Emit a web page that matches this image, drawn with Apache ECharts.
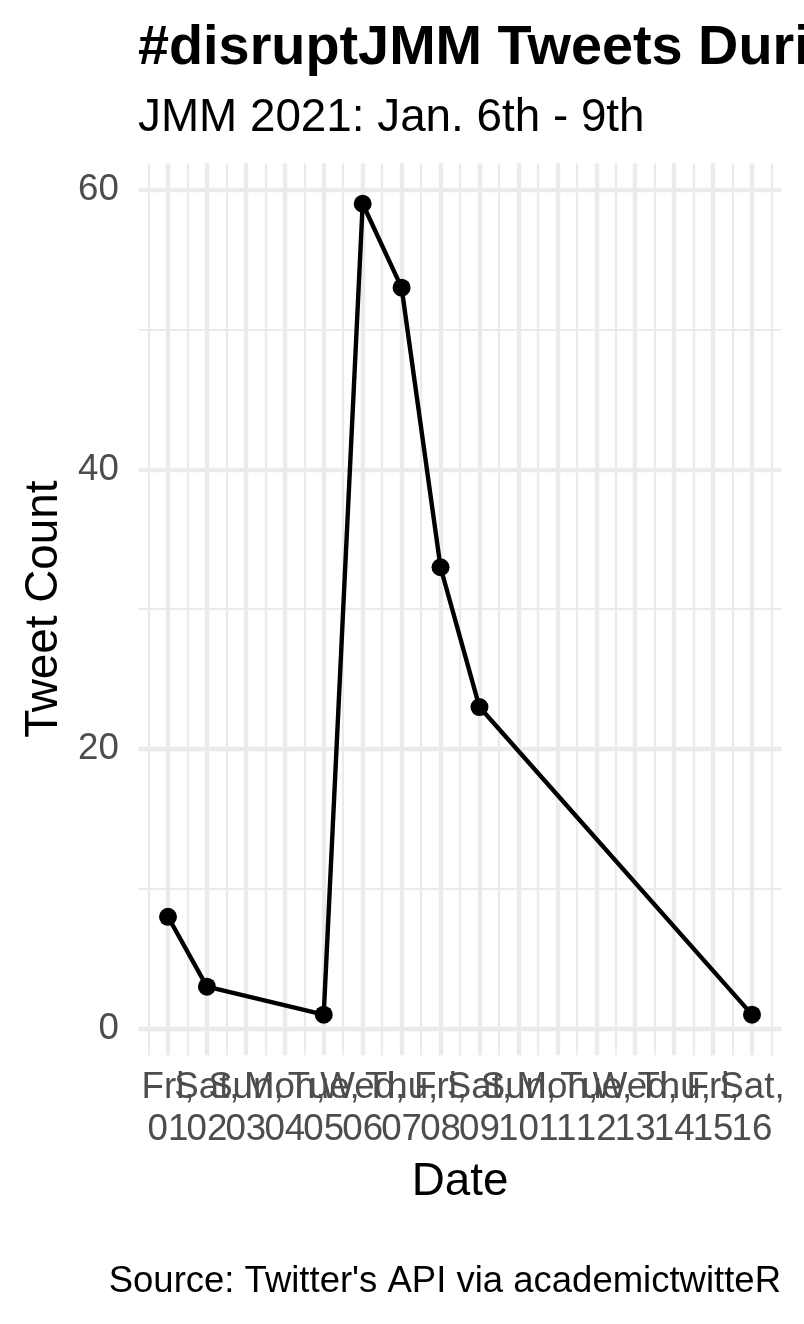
<!DOCTYPE html>
<html><head><meta charset="utf-8">
<script src="https://cdn.jsdelivr.net/npm/echarts@6/dist/echarts.min.js"></script>
<style>html,body{margin:0;padding:0;background:#fff}#c{width:804px;height:1324px}</style>
</head><body><div id="c"></div>
<script>
// ---- data ----
const days = [1, 2, 5, 6, 7, 8, 9, 16];           // day of January 2021
const tweetCounts = [8, 3, 1, 59, 53, 33, 23, 1];
const xTickDays = [1, 2, 3, 4, 5, 6, 7, 8, 9, 10, 11, 12, 13, 14, 15, 16];
const xTickLabels = ['Fri,\n01', 'Sat,\n02', 'Sun,\n03', 'Mon,\n04', 'Tue,\n05', 'Wed,\n06', 'Thu,\n07', 'Fri,\n08',
                     'Sat,\n09', 'Sun,\n10', 'Mon,\n11', 'Tue,\n12', 'Wed,\n13', 'Thu,\n14', 'Fri,\n15', 'Sat,\n16'];
const xMinorDays = [0.5, 1.5, 2.5, 3.5, 4.5, 5.5, 6.5, 7.5, 8.5, 9.5, 10.5, 11.5, 12.5, 13.5, 14.5, 15.5, 16.5];
const yTicks = [0, 20, 40, 60];
const yMinorTicks = [10, 30, 50];
const titleText = '#disruptJMM Tweets During';
const subtitleText = 'JMM 2021: Jan. 6th - 9th';
const captionText = "Source: Twitter's API via academictwitteR";

// ---- chart ----
const FONT = '"Liberation Sans", Arial, Helvetica, sans-serif';
const X_MIN = 0.25, X_MAX = 16.75, Y_MIN = -1.9, Y_MAX = 61.9;
// labels are split over two coincident axes so that ECharts never drops overlapping neighbours
const oddDays = xTickDays.filter(d => d % 2 === 1);
const evenDays = xTickDays.filter(d => d % 2 === 0);
const dayLabel = v => xTickLabels[xTickDays.indexOf(Math.round(v))];
const labelStyle = {
  showMinLabel: true, showMaxLabel: true, hideOverlap: false, formatter: dayLabel,
  fontFamily: FONT, fontSize: 36.7, color: '#4D4D4D', lineHeight: 42, margin: 12, align: 'center'
};
const chart = echarts.init(document.getElementById('c'), null, {renderer: 'canvas'});

chart.setOption({
  animation: false,
  backgroundColor: '#ffffff',
  grid: {left: 138.8, right: 22.8, top: 163.2, bottom: 268.8, containLabel: false},
  graphic: [
    {type: 'text', left: 138, top: 21, style: {text: titleText, font: 'bold 55.8px ' + FONT, fill: '#000'}},
    {type: 'text', left: 138, top: 95, style: {text: subtitleText, font: '45.8px ' + FONT, fill: '#000'}},
    {type: 'text', right: 23, top: 1263, style: {text: captionText, font: '36.5px ' + FONT, fill: '#000'}}
  ],
  xAxis: [
    {
      type: 'value', min: X_MIN, max: X_MAX, position: 'bottom',
      axisLine: {show: false},
      axisTick: {show: false, customValues: xTickDays},
      axisLabel: Object.assign({customValues: oddDays}, labelStyle),
      splitLine: {show: true, lineStyle: {color: '#EBEBEB', width: 4.4}},
      name: 'Date', nameLocation: 'middle', nameGap: 127,
      nameTextStyle: {fontFamily: FONT, fontSize: 45.8, color: '#000', verticalAlign: 'middle'}
    },
    {
      type: 'value', min: X_MIN, max: X_MAX, position: 'bottom',
      axisLine: {show: false},
      axisTick: {show: false, customValues: xMinorDays},
      axisLabel: Object.assign({customValues: evenDays}, labelStyle),
      splitLine: {show: true, lineStyle: {color: '#EBEBEB', width: 2.2}}
    }
  ],
  yAxis: [
    {
      type: 'value', min: Y_MIN, max: Y_MAX,
      axisLine: {show: false},
      axisTick: {show: false, customValues: yTicks},
      axisLabel: {customValues: yTicks, showMinLabel: true, showMaxLabel: true,
        fontFamily: FONT, fontSize: 36.7, color: '#4D4D4D', margin: 20},
      splitLine: {show: true, lineStyle: {color: '#EBEBEB', width: 4.4}},
      name: 'Tweet Count', nameLocation: 'middle', nameGap: 93, nameRotate: 90,
      nameTextStyle: {fontFamily: FONT, fontSize: 45.8, color: '#000', verticalAlign: 'middle'}
    },
    {
      type: 'value', min: Y_MIN, max: Y_MAX, position: 'left',
      axisLine: {show: false},
      axisTick: {show: false, customValues: yMinorTicks},
      axisLabel: {show: false, customValues: yMinorTicks},
      splitLine: {show: true, lineStyle: {color: '#EBEBEB', width: 2.2}}
    }
  ],
  series: [{
    type: 'line', xAxisIndex: 0, yAxisIndex: 0,
    data: days.map((d, i) => [d, tweetCounts[i]]),
    symbol: 'circle', symbolSize: 18, showSymbol: true,
    lineStyle: {color: '#000', width: 4.4},
    itemStyle: {color: '#000'},
    clip: false, z: 5
  }]
});
</script>
</body></html>
